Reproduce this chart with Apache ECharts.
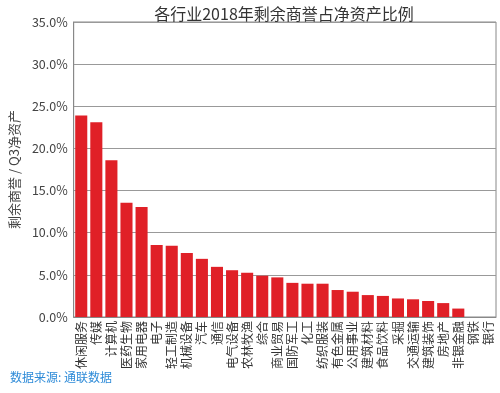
<!DOCTYPE html>
<html>
<head>
<meta charset="utf-8">
<script src="https://cdn.jsdelivr.net/npm/echarts@6/dist/echarts.min.js"></script>
<style>
html,body{margin:0;padding:0;background:#fff;}
#c{width:500px;height:393px;}
</style>
</head>
<body>
<div id="c"></div>
<script>
const categories = ['休闲服务','传媒','计算机','医药生物','家用电器','电子','轻工制造','机械设备','汽车','通信','电气设备','农林牧渔','综合','商业贸易','国防军工','化工','纺织服装','有色金属','公用事业','建筑材料','食品饮料','采掘','交通运输','建筑装饰','房地产','非银金融','钢铁','银行'];
const values = [23.9,23.1,18.6,13.55,13.05,8.55,8.45,7.6,6.9,5.95,5.55,5.25,4.9,4.7,4.05,3.95,3.95,3.2,3.0,2.6,2.5,2.2,2.1,1.9,1.65,1.0,0,0];
const yTicks = [0,5,10,15,20,25,30,35];
const titleText = '各行业2018年剩余商誉占净资产比例';
const yName = '剩余商誉 / Q3净资产';
const sourceText = '数据来源: 通联数据';

const font = '"Noto Sans CJK SC", "Noto Sans", sans-serif';
const chart = echarts.init(document.getElementById('c'));
chart.setOption({
  animation: false,
  textStyle: {fontFamily: font},
  title: [{
    text: titleText,
    left: 279, top: 1, textAlign: 'center',
    textStyle: {fontSize: 16, fontWeight: 'normal', color: '#333', fontFamily: font}
  }],
  graphic: [{
    type: 'text', left: 10, top: 371,
    style: {text: sourceText, fill: '#2E8BD8', fontSize: 12, fontFamily: font}
  }],
  grid: {left: 63, right: 4, top: 22, bottom: 76, show: true, borderColor: '#888', borderWidth: 1},
  xAxis: {
    type: 'category', data: categories,
    axisTick: {show: false},
    axisLine: {lineStyle: {color: '#888'}},
    axisLabel: {interval: 0, rotate: 90, fontSize: 12, color: '#333', margin: 4, fontFamily: font}
  },
  yAxis: {
    type: 'value', min: yTicks[0], max: yTicks[yTicks.length-1], interval: 5,
    name: yName, nameLocation: 'middle', nameGap: 46,
    nameTextStyle: {fontSize: 13, color: '#444', fontFamily: font},
    axisLine: {show: true, lineStyle: {color: '#888'}},
    axisTick: {show: false},
    splitLine: {lineStyle: {color: '#999'}},
    axisLabel: {fontSize: 12.5, color: '#444', margin: 6, formatter: v => v.toFixed(1) + '%', fontFamily: font}
  },
  series: [{
    type: 'bar', data: values, barCategoryGap: '20%',
    itemStyle: {color: '#E02027'}
  }]
});
</script>
</body>
</html>
